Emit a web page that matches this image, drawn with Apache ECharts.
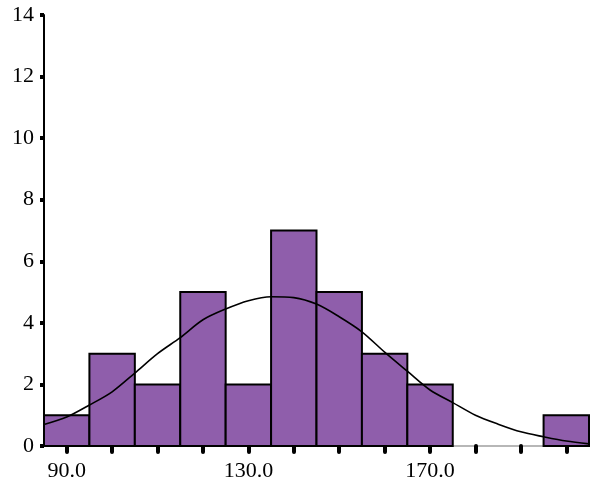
<!DOCTYPE html>
<html>
<head>
<meta charset="utf-8">
<script src="https://cdn.jsdelivr.net/npm/echarts@6/dist/echarts.min.js"></script>
<style>
  html, body { margin: 0; padding: 0; background: #fff; }
  #chart { width: 590px; height: 487px; }
</style>
</head>
<body>
<div id="chart"></div>
<script>
// Histogram bins (lower edge, upper edge) and their counts
const binStarts = [85, 95, 105, 115, 125, 135, 145, 155, 165, 175, 185, 195];
const binWidth = 10;
const counts = [1, 3, 2, 5, 2, 7, 5, 3, 2, 0, 0, 1];

// Fitted density curve, sampled along the x range
const curveX = [85, 90, 95, 100, 105, 110, 115, 120, 125, 130, 135, 140, 145, 150, 155, 160, 165, 170, 175, 180, 185, 190, 195, 200, 205];
const curveY = [0.70, 0.94, 1.33, 1.76, 2.37, 3.00, 3.52, 4.10, 4.45, 4.72, 4.85, 4.82, 4.61, 4.20, 3.71, 3.05, 2.43, 1.82, 1.41, 1.00, 0.71, 0.46, 0.30, 0.16, 0.07];

// Axis ticks and labels
const xTickValues = [90, 100, 110, 120, 130, 140, 150, 160, 170, 180, 190, 200];
const xLabelValues = [90, 130, 170];
const yTickValues = [0, 2, 4, 6, 8, 10, 12, 14];

const barData = binStarts.map((s, i) => [s, s + binWidth, counts[i]]);
const curveData = curveX.map((x, i) => [x, curveY[i]]);

const chart = echarts.init(document.getElementById('chart'), null, { renderer: 'canvas' });

chart.setOption({
  animation: false,
  backgroundColor: '#ffffff',
  grid: { left: 44, right: 1, top: 15, bottom: 41, containLabel: false },
  xAxis: {
    type: 'value',
    min: 85,
    max: 205,
    splitLine: { show: false },
    axisLine: { show: true, onZero: false, lineStyle: { color: '#a0a0a0', width: 1.5 } },
    axisTick: {
      show: true,
      customValues: xTickValues,
      length: 6,
      lineStyle: { color: '#000', width: 4, cap: 'round' }
    },
    axisLabel: {
      customValues: xLabelValues,
      formatter: v => v.toFixed(1),
      fontFamily: 'Liberation Serif',
      fontSize: 22,
      color: '#000',
      margin: 14
    }
  },
  yAxis: {
    type: 'value',
    min: 0,
    max: 14,
    interval: 2,
    splitLine: { show: false },
    axisLine: { show: true, lineStyle: { color: '#000', width: 2 } },
    axisTick: {
      show: true,
      customValues: yTickValues,
      length: 4,
      lineStyle: { color: '#000', width: 4 }
    },
    axisLabel: {
      fontFamily: 'Liberation Serif',
      fontSize: 22,
      color: '#000',
      margin: 10
    }
  },
  series: [
    {
      type: 'custom',
      name: 'bins',
      data: barData,
      encode: { x: [0, 1], y: 2 },
      z: 2,
      renderItem: function (params, api) {
        const p0 = api.coord([api.value(0), api.value(2)]);
        const p1 = api.coord([api.value(1), 0]);
        if (api.value(2) <= 0) return null;
        return {
          type: 'rect',
          shape: { x: p0[0], y: p0[1], width: p1[0] - p0[0], height: p1[1] - p0[1] },
          style: { fill: '#8f5eab', stroke: '#000', lineWidth: 2 }
        };
      }
    },
    {
      type: 'line',
      name: 'fit',
      data: curveData,
      showSymbol: false,
      symbol: 'none',
      smooth: 0.3,
      z: 5,
      lineStyle: { color: '#000', width: 1.6 }
    }
  ]
});
</script>
</body>
</html>
